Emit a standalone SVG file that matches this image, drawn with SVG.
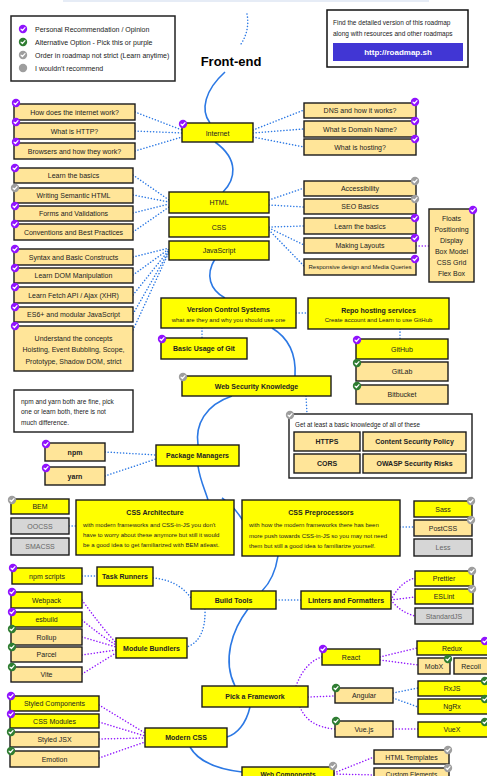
<svg xmlns="http://www.w3.org/2000/svg" width="487" height="776" viewBox="0 0 487 776">
<style>
text{font-family:"Liberation Sans",Arial,sans-serif;font-size:7px;fill:#222;text-anchor:middle;dominant-baseline:central}
.bd{font-weight:bold}
.sm{font-size:6px;text-anchor:start}
.st{text-anchor:start}
.bx{stroke:#1a1a1a;stroke-width:1.4}
.y{fill:#ffff00}
.o{fill:#ffe599}
.g{fill:#d6d6d6}
.w{fill:#fff}
.spine{fill:none;stroke:#2b78e4;stroke-width:1.6}
.db{fill:none;stroke:#2b78e4;stroke-width:1.5;stroke-dasharray:0.1 3;stroke-linecap:round}
.dp{fill:none;stroke:#9013fe;stroke-width:1.5;stroke-dasharray:0.1 3;stroke-linecap:round}
</style>
<defs>
<g id="cp"><circle r="4.2" fill="#9013fe"/><path d="M-2,0.1 L-0.6,1.5 L2,-1.3" fill="none" stroke="#fff" stroke-width="1.2" stroke-linecap="round" stroke-linejoin="round"/></g>
<g id="cg"><circle r="4.2" fill="#2f7d32"/><path d="M-2,0.1 L-0.6,1.5 L2,-1.3" fill="none" stroke="#fff" stroke-width="1.2" stroke-linecap="round" stroke-linejoin="round"/></g>
<g id="cy"><circle r="4.2" fill="#9e9e9e"/><path d="M-2,0.1 L-0.6,1.5 L2,-1.3" fill="none" stroke="#fff" stroke-width="1.2" stroke-linecap="round" stroke-linejoin="round"/></g>
<g id="cx"><circle r="4.2" fill="#9e9e9e"/></g>
</defs>

<rect x="63" y="0" width="366" height="2" fill="#e6ecf6"/>

<g id="spine">
<path class="spine" d="M225,72 C205,90 200,110 210,123"/>
<path class="spine" d="M215,142 C240,160 235,180 223,192"/>
<path class="spine" d="M215,259 C205,275 210,290 225,298"/>
<path class="spine" d="M272,328 C292,340 296,360 295,376"/>
<path class="spine" d="M232,396 C205,405 195,425 198,445"/>
<path class="spine" d="M198,466 C200,480 205,490 208,500"/>
<path class="spine" d="M222,498 C233,505 240,515 246,526"/>
<path class="spine" d="M278,556 C275,575 268,585 262,591"/>
<path class="spine" d="M248,609 C232,630 222,660 235,686"/>
<path class="spine" d="M250,707 C246,724 237,734 227,737"/>
<path class="spine" d="M190,747 C200,765 225,770 242,772"/>
</g>

<g id="connectors">
<path class="db" d="M247,14 Q250,30 241,44"/>
<path class="db" d="M135,112 L182,130"/>
<path class="db" d="M135,131 L182,133"/>
<path class="db" d="M135,151 L182,137"/>
<path class="db" d="M253,130 L304,110"/>
<path class="db" d="M253,133 L304,129"/>
<path class="db" d="M253,137 L304,147"/>
<path class="db" d="M133,175 L169,200"/>
<path class="db" d="M133,195 L169,202"/>
<path class="db" d="M133,213 L169,204"/>
<path class="db" d="M133,232 L169,207"/>
<path class="db" d="M269,200 L304,188"/>
<path class="db" d="M269,205 L304,207"/>
<path class="db" d="M269,227 L304,226"/>
<path class="db" d="M269,228 L304,245"/>
<path class="db" d="M269,230 L304,266"/>
<path class="dp" d="M416,246 L429,246"/>
<path class="db" d="M133,257 L169,248"/>
<path class="db" d="M133,275 L169,249"/>
<path class="db" d="M133,295 L169,250"/>
<path class="db" d="M133,314 L169,251"/>
<path class="db" d="M133,330 L169,252"/>
<path class="db" d="M296,313 L308,313"/>
<path class="db" d="M202,328 L202,338"/>
<path class="db" d="M400,329 L400,339"/>
<path class="db" d="M306,396 L307,414"/>
<path class="db" d="M105,452 L156,455"/>
<path class="db" d="M105,476 L156,459"/>
<path class="db" d="M69,526 L76,526"/>
<path class="db" d="M400,527 L414,527"/>
<path class="db" d="M82,576 L97,576"/>
<path class="db" d="M153,578 Q178,580 191,598"/>
<path class="db" d="M276,600 L301,600"/>
<path class="db" d="M205,609 Q206,640 187,647"/>
<path class="dp" d="M82,600 Q100,625 116,643"/>
<path class="dp" d="M82,620 Q100,635 116,645"/>
<path class="dp" d="M82,637 L116,647"/>
<path class="dp" d="M82,655 L116,650"/>
<path class="dp" d="M82,674 L116,653"/>
<path class="dp" d="M391,600 Q400,582 415,578"/>
<path class="dp" d="M391,600 L415,597"/>
<path class="dp" d="M391,600 Q400,612 415,616"/>
<path class="dp" d="M296,686 Q305,662 322,657"/>
<path class="dp" d="M308,697 L335,696"/>
<path class="dp" d="M300,707 Q308,727 335,729"/>
<path class="dp" d="M380,657 L417,648"/>
<path class="dp" d="M380,660 L418,665"/>
<path class="db" d="M393,693 L418,688"/>
<path class="db" d="M393,698 L418,707"/>
<path class="dp" d="M393,729 L418,729"/>
<path class="dp" d="M99,705 L145,733"/>
<path class="dp" d="M99,722 L145,736"/>
<path class="dp" d="M99,739 L145,738"/>
<path class="dp" d="M99,758 L145,742"/>
<path class="dp" d="M334,773 L374,757"/>
<path class="dp" d="M334,774 L374,775"/>
</g>

<g id="legend">
<rect x="11" y="16" width="164" height="65" class="w" stroke="#222" stroke-width="1.5"/>
<use href="#cp" x="23" y="29"/><text class="st" x="35" y="29">Personal Recommendation / Opinion</text>
<use href="#cg" x="23" y="42"/><text class="st" x="35" y="42">Alternative Option - Pick this or purple</text>
<use href="#cy" x="23" y="55"/><text class="st" x="35" y="55">Order in roadmap not strict (Learn anytime)</text>
<use href="#cx" x="23" y="68"/><text class="st" x="35" y="68">I wouldn't recommend</text>
</g>

<g id="info">
<rect x="327" y="10" width="141" height="57" class="w" stroke="#111" stroke-width="1.5"/>
<text class="st" x="333" y="22" style="font-size:6.5px">Find the detailed version of this roadmap</text>
<text class="st" x="333" y="33" style="font-size:6.5px">along with resources and other roadmaps</text>
<rect x="333" y="43" width="130" height="18" fill="#4136d4"/>
<text x="398" y="52" class="bd" style="font-size:8px;fill:#fff">http://roadmap.sh</text>
</g>

<g id="title"><text x="231" y="61" class="bd" style="font-size:13px;fill:#000">Front-end</text></g>

<g id="internet"><rect x="182" y="123" width="71" height="19" class="bx y"/><text x="217.5" y="133">Internet</text><use href="#cp" x="183" y="124"/></g>
<g id="how-internet"><rect x="14" y="104" width="121" height="16" class="bx o"/><text x="74.5" y="112">How does the internet work?</text><use href="#cp" x="16" y="103"/></g>
<g id="http"><rect x="14" y="123" width="121" height="16" class="bx o"/><text x="74.5" y="131">What is HTTP?</text><use href="#cp" x="16" y="122"/></g>
<g id="browsers"><rect x="14" y="143" width="121" height="16" class="bx o"/><text x="74.5" y="151">Browsers and how they work?</text><use href="#cp" x="16" y="142"/></g>
<g id="dns"><rect x="304" y="103" width="112" height="15" class="bx o"/><text x="360" y="110.5">DNS and how it works?</text><use href="#cp" x="415" y="102"/></g>
<g id="domain"><rect x="304" y="121" width="112" height="16" class="bx o"/><text x="360" y="129">What is Domain Name?</text><use href="#cp" x="415" y="121"/></g>
<g id="hosting"><rect x="304" y="139" width="112" height="16" class="bx o"/><text x="360" y="147">What is hosting?</text><use href="#cp" x="415" y="139"/></g>

<g id="html"><rect x="169" y="192" width="100" height="21" class="bx y"/><text x="219" y="202.5">HTML</text></g>
<g id="css"><rect x="169" y="217" width="100" height="20" class="bx y"/><text x="219" y="227">CSS</text></g>
<g id="js"><rect x="169" y="241" width="100" height="19" class="bx y"/><text x="219" y="250.5">JavaScript</text></g>

<g id="html-basics"><rect x="14" y="168" width="119" height="15" class="bx o"/><text x="73.5" y="175.5">Learn the basics</text><use href="#cp" x="15" y="168"/></g>
<g id="semantic"><rect x="14" y="188" width="119" height="15" class="bx o"/><text x="73.5" y="195.5">Writing Semantic HTML</text><use href="#cy" x="15" y="188"/></g>
<g id="forms"><rect x="14" y="206" width="119" height="15" class="bx o"/><text x="73.5" y="213.5">Forms and Validations</text><use href="#cp" x="15" y="206"/></g>
<g id="conventions"><rect x="14" y="224" width="119" height="16" class="bx o"/><text x="73.5" y="232">Conventions and Best Practices</text><use href="#cp" x="15" y="224"/></g>

<g id="syntax"><rect x="14" y="249" width="119" height="16" class="bx o"/><text x="73.5" y="257">Syntax and Basic Constructs</text><use href="#cp" x="15" y="249"/></g>
<g id="dom"><rect x="14" y="268" width="119" height="15" class="bx o"/><text x="73.5" y="275.5">Learn DOM Manipulation</text><use href="#cp" x="15" y="268"/></g>
<g id="fetch"><rect x="14" y="287" width="119" height="16" class="bx o"/><text x="73.5" y="295">Learn Fetch API / Ajax (XHR)</text><use href="#cp" x="15" y="287"/></g>
<g id="es6"><rect x="14" y="307" width="119" height="15" class="bx o"/><text x="73.5" y="314.5">ES6+ and modular JavaScript</text><use href="#cp" x="15" y="307"/></g>
<g id="concepts"><rect x="14" y="326" width="119" height="45" class="bx o"/><text x="73.5" y="338">Understand the concepts</text><text x="73.5" y="349.5">Hoisting, Event Bubbling, Scope,</text><text x="73.5" y="361">Prototype, Shadow DOM, strict</text><use href="#cp" x="15" y="326"/></g>

<g id="accessibility"><rect x="304" y="181" width="112" height="15" class="bx o"/><text x="360" y="188.5">Accessibility</text><use href="#cy" x="415" y="181"/></g>
<g id="seo"><rect x="304" y="199" width="112" height="15" class="bx o"/><text x="360" y="206.5">SEO Basics</text><use href="#cy" x="415" y="199"/></g>
<g id="css-basics"><rect x="304" y="218" width="112" height="16" class="bx o"/><text x="360" y="226">Learn the basics</text><use href="#cp" x="415" y="218"/></g>
<g id="layouts"><rect x="304" y="238" width="112" height="15" class="bx o"/><text x="360" y="245.5">Making Layouts</text><use href="#cp" x="415" y="238"/></g>
<g id="responsive"><rect x="304" y="259" width="112" height="16" class="bx o"/><text x="360" y="267" style="font-size:6px">Responsive design and Media Queries</text><use href="#cp" x="415" y="259"/></g>
<g id="layout-list"><rect x="429" y="209" width="45" height="73" class="bx o"/><text x="451.5" y="218">Floats</text><text x="451.5" y="229">Positioning</text><text x="451.5" y="240">Display</text><text x="451.5" y="251">Box Model</text><text x="451.5" y="262">CSS Grid</text><text x="451.5" y="273">Flex Box</text><use href="#cp" x="473" y="210"/></g>

<g id="vcs"><rect x="161" y="298" width="135" height="30" class="bx y"/><text x="228.5" y="309" class="bd">Version Control Systems</text><text x="228.5" y="320" style="font-size:6px">what are they and why you should use one</text></g>
<g id="repo"><rect x="308" y="298" width="141" height="31" class="bx y"/><text x="378.5" y="310" class="bd">Repo hosting services</text><text x="378.5" y="320" style="font-size:6px">Create account and Learn to use GitHub</text></g>
<g id="git"><rect x="161" y="338" width="86" height="21" class="bx y"/><text x="204" y="348.5" class="bd">Basic Usage of Git</text><use href="#cp" x="162" y="339"/></g>
<g id="github"><rect x="356" y="339" width="92" height="20" class="bx y"/><text x="402" y="349">GitHub</text><use href="#cp" x="357" y="340"/></g>
<g id="gitlab"><rect x="356" y="362" width="92" height="19" class="bx o"/><text x="402" y="371.5">GitLab</text><use href="#cg" x="357" y="363"/></g>
<g id="bitbucket"><rect x="356" y="385" width="92" height="19" class="bx o"/><text x="402" y="394.5">Bitbucket</text><use href="#cg" x="357" y="386"/></g>

<g id="websec"><rect x="182" y="376" width="149" height="20" class="bx y"/><text x="256.5" y="386" class="bd">Web Security Knowledge</text><use href="#cy" x="183" y="377"/></g>
<g id="sec-group"><rect x="289" y="414" width="183" height="64" class="w" stroke="#1a1a1a" stroke-width="1.4"/><text class="st" x="295" y="424" style="font-size:6.3px">Get at least a basic knowledge of all of these</text><use href="#cy" x="290" y="415"/></g>
<g id="https"><rect x="294" y="432" width="66" height="19" class="bx o"/><text x="327" y="441.5" class="bd">HTTPS</text></g>
<g id="csp"><rect x="363" y="432" width="103" height="19" class="bx o"/><text x="414.5" y="441.5" class="bd">Content Security Policy</text></g>
<g id="cors"><rect x="294" y="454" width="66" height="19" class="bx o"/><text x="327" y="463.5" class="bd">CORS</text></g>
<g id="owasp"><rect x="363" y="454" width="103" height="19" class="bx o"/><text x="414.5" y="463.5" class="bd">OWASP Security Risks</text></g>

<g id="npm-note"><rect x="14" y="390" width="119" height="42" class="w" stroke="#1a1a1a" stroke-width="1.4"/><text class="st" x="21" y="401" style="font-size:6.5px">npm and yarn both are fine, pick</text><text class="st" x="21" y="411.5" style="font-size:6.5px">one or learn both, there is not</text><text class="st" x="21" y="422" style="font-size:6.5px">much difference.</text></g>
<g id="pm"><rect x="156" y="445" width="83" height="21" class="bx y"/><text x="197.5" y="455.5" class="bd">Package Managers</text></g>
<g id="npm"><rect x="45" y="443" width="60" height="18" class="bx o"/><text x="75" y="452" class="bd">npm</text><use href="#cp" x="46" y="444"/></g>
<g id="yarn"><rect x="45" y="467" width="60" height="18" class="bx o"/><text x="75" y="476" class="bd">yarn</text><use href="#cp" x="46" y="468"/></g>

<g id="css-arch"><rect x="76" y="500" width="158" height="55" class="bx y"/><text x="155" y="512" class="bd">CSS Architecture</text><text class="sm" x="83" y="525">with modern frameworks and CSS-in-JS you don't</text><text class="sm" x="83" y="535">have to worry about these anymore but still it would</text><text class="sm" x="83" y="545">be a good idea to get familiarized with BEM atleast.</text></g>
<g id="css-pre"><rect x="242" y="500" width="158" height="56" class="bx y"/><text x="321" y="512" class="bd">CSS Preprocessors</text><text class="sm" x="249" y="525">with how the modern frameworks there has been</text><text class="sm" x="249" y="535.5">more push towards CSS-in-JS so you may not need</text><text class="sm" x="249" y="546">them but still a good idea to familiarize yourself.</text></g>
<g id="bem"><rect x="11" y="499" width="58" height="15" class="bx y"/><text x="40" y="506.5">BEM</text><use href="#cy" x="12" y="500"/></g>
<g id="oocss"><rect x="11" y="518" width="58" height="16" class="bx g"/><text x="40" y="526" style="fill:#666">OOCSS</text></g>
<g id="smacss"><rect x="11" y="538" width="58" height="17" class="bx g"/><text x="40" y="546.5" style="fill:#666">SMACSS</text></g>
<g id="sass"><rect x="414" y="501" width="58" height="16" class="bx y"/><text x="443" y="509">Sass</text><use href="#cy" x="471" y="501"/></g>
<g id="postcss"><rect x="414" y="520" width="58" height="16" class="bx o"/><text x="443" y="528">PostCSS</text><use href="#cy" x="471" y="520"/></g>
<g id="less"><rect x="414" y="539" width="58" height="17" class="bx g"/><text x="443" y="547.5" style="fill:#666">Less</text></g>

<g id="task-runners"><rect x="97" y="567" width="56" height="19" class="bx y"/><text x="125" y="576.5" class="bd">Task Runners</text></g>
<g id="npm-scripts"><rect x="12" y="568" width="70" height="16" class="bx y"/><text x="47" y="576">npm scripts</text><use href="#cp" x="13" y="568"/></g>
<g id="build-tools"><rect x="191" y="591" width="85" height="18" class="bx y"/><text x="233.5" y="600" class="bd">Build Tools</text></g>
<g id="linters"><rect x="301" y="591" width="90" height="18" class="bx y"/><text x="346" y="600" class="bd">Linters and Formatters</text></g>
<g id="prettier"><rect x="415" y="571" width="58" height="15" class="bx y"/><text x="444" y="578.5">Prettier</text><use href="#cy" x="472" y="571"/></g>
<g id="eslint"><rect x="415" y="589" width="58" height="15" class="bx y"/><text x="444" y="596.5">ESLint</text><use href="#cy" x="472" y="589"/></g>
<g id="standardjs"><rect x="415" y="608" width="58" height="16" class="bx g"/><text x="444" y="616" style="fill:#666">StandardJS</text></g>
<g id="bundlers"><rect x="116" y="638" width="71" height="20" class="bx y"/><text x="151.5" y="648" class="bd">Module Bundlers</text></g>
<g id="webpack"><rect x="11" y="592" width="71" height="16" class="bx y"/><text x="46.5" y="600">Webpack</text><use href="#cp" x="12" y="592"/></g>
<g id="esbuild"><rect x="11" y="612" width="71" height="15" class="bx y"/><text x="46.5" y="619.5">esbuild</text><use href="#cp" x="12" y="612"/></g>
<g id="rollup"><rect x="11" y="629" width="71" height="16" class="bx o"/><text x="46.5" y="637">Rollup</text><use href="#cg" x="12" y="629"/></g>
<g id="parcel"><rect x="11" y="647" width="71" height="15" class="bx o"/><text x="46.5" y="654.5">Parcel</text><use href="#cg" x="12" y="647"/></g>
<g id="vite"><rect x="11" y="667" width="71" height="15" class="bx o"/><text x="46.5" y="674.5">Vite</text><use href="#cg" x="12" y="667"/></g>

<g id="framework"><rect x="202" y="686" width="106" height="21" class="bx y"/><text x="255" y="696.5" class="bd">Pick a Framework</text></g>
<g id="react"><rect x="322" y="649" width="58" height="16" class="bx y"/><text x="351" y="657">React</text><use href="#cp" x="323" y="649"/></g>
<g id="redux"><rect x="417" y="641" width="75" height="14" class="bx y"/><text x="452" y="648">Redux</text><use href="#cp" x="485" y="641"/></g>
<g id="mobx"><rect x="418" y="658" width="32" height="16" class="bx o"/><text x="434" y="666">MobX</text><use href="#cg" x="448" y="659"/></g>
<g id="recoil"><rect x="454" y="658" width="38" height="16" class="bx o"/><text x="471" y="666">Recoil</text></g>
<g id="angular"><rect x="335" y="688" width="58" height="15" class="bx o"/><text x="364" y="695.5">Angular</text><use href="#cg" x="336" y="688"/></g>
<g id="rxjs"><rect x="418" y="681" width="74" height="15" class="bx y"/><text x="452" y="688.5">RxJS</text><use href="#cg" x="485" y="681"/></g>
<g id="ngrx"><rect x="418" y="699" width="74" height="15" class="bx y"/><text x="452" y="706.5">NgRx</text><use href="#cg" x="485" y="699"/></g>
<g id="vue"><rect x="335" y="721" width="58" height="16" class="bx o"/><text x="364" y="729">Vue.js</text><use href="#cg" x="336" y="721"/></g>
<g id="vuex"><rect x="418" y="722" width="74" height="15" class="bx y"/><text x="452" y="729.5">VueX</text><use href="#cg" x="485" y="722"/></g>

<g id="modern-css"><rect x="145" y="728" width="82" height="19" class="bx y"/><text x="186" y="737.5" class="bd">Modern CSS</text></g>
<g id="styled-components"><rect x="10" y="696" width="89" height="15" class="bx y"/><text x="54.5" y="703.5">Styled Components</text><use href="#cp" x="11" y="696"/></g>
<g id="css-modules"><rect x="10" y="714" width="89" height="14" class="bx y"/><text x="54.5" y="721">CSS Modules</text><use href="#cp" x="11" y="714"/></g>
<g id="styled-jsx"><rect x="10" y="732" width="89" height="15" class="bx o"/><text x="54.5" y="739.5">Styled JSX</text><use href="#cg" x="11" y="732"/></g>
<g id="emotion"><rect x="10" y="751" width="89" height="16" class="bx o"/><text x="54.5" y="759">Emotion</text><use href="#cg" x="11" y="751"/></g>

<g id="web-components"><rect x="242" y="767" width="92" height="22" class="bx y"/><text x="288" y="774.5" class="bd" style="font-size:6.5px">Web Components</text><use href="#cy" x="333" y="766"/></g>
<g id="html-templates"><rect x="374" y="750" width="75" height="14" class="bx o"/><text x="411.5" y="757">HTML Templates</text><use href="#cy" x="448" y="750"/></g>
<g id="custom-elements"><rect x="374" y="768" width="75" height="16" class="bx o"/><text x="411.5" y="774" style="font-size:6.5px">Custom Elements</text><use href="#cy" x="448" y="768"/></g>
</svg>
